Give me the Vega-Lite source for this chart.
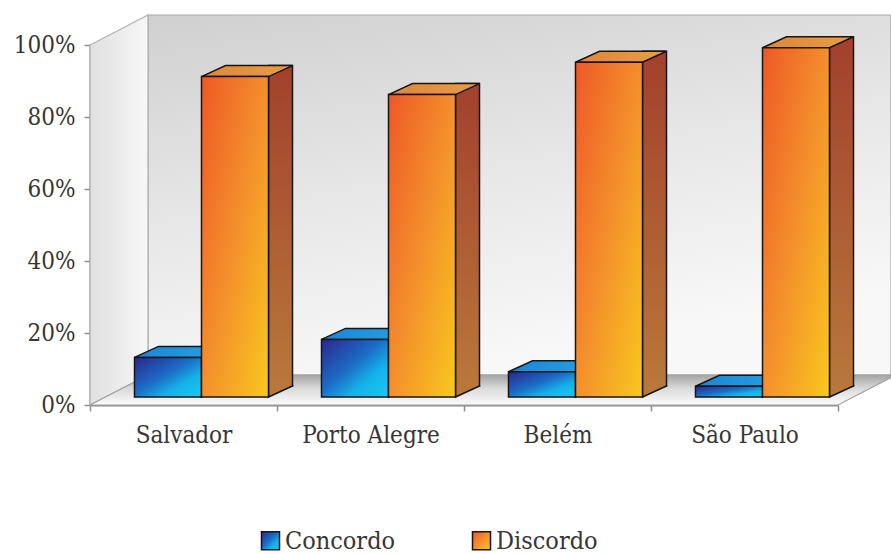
{
  "$schema": "https://vega.github.io/schema/vega-lite/v6.json",
  "width": 748,
  "height": 360,
  "autosize": {"type": "none"},
  "padding": {"left": 90, "top": 45, "right": 53, "bottom": 149},
  "background": "#ffffff",
  "config": {
    "view": {"stroke": null},
    "axis": {
      "zindex": 1,
      "grid": false,
      "domainColor": "#8c8c8c",
      "domainWidth": 2,
      "tickColor": "#8c8c8c",
      "tickWidth": 1.5,
      "tickSize": 6,
      "labelFont": "DejaVu Serif Condensed, DejaVu Serif",
      "labelFontSize": 24,
      "labelColor": "#363636",
      "title": null
    },
    "axisX": {"tickBand": "extent", "labelAngle": 0, "labelPadding": 12},
    "axisY": {"labelPadding": 9, "tickCount": 5, "format": ".0%"}
  },
  "datasets": {
    "survey": [
      {"city": "Salvador", "series": "Concordo", "value": 0.11},
      {"city": "Salvador", "series": "Discordo", "value": 0.89},
      {"city": "Porto Alegre", "series": "Concordo", "value": 0.16},
      {"city": "Porto Alegre", "series": "Discordo", "value": 0.84},
      {"city": "Belém", "series": "Concordo", "value": 0.07},
      {"city": "Belém", "series": "Discordo", "value": 0.93},
      {"city": "São Paulo", "series": "Concordo", "value": 0.03},
      {"city": "São Paulo", "series": "Discordo", "value": 0.97}
    ]
  },
  "resolve": {"scale": {"xOffset": "independent"}},
  "layer": [
    {
      "description": "back wall",
      "data": {"values": [{}]},
      "mark": {"type": "rect", "xOffset": 58, "x2Offset": 53, "yOffset": -30, "y2Offset": -30,
        "stroke": "#a9a9a9", "strokeWidth": 1.2,
        "fill": {"gradient": "linear", "x1": 0, "y1": 0, "x2": 0.35, "y2": 1,
          "stops": [{"offset": 0, "color": "#d0d0d0"}, {"offset": 0.55, "color": "#e8e8e8"}, {"offset": 1, "color": "#f8f8f8"}]}},
      "encoding": {
        "x": {"value": 0},
        "x2": {"value": "width"},
        "y": {"datum": 1, "type": "quantitative", "scale": {"domain": [0, 1]}},
        "y2": {"datum": 0}
      }
    },
    {
      "description": "left side wall",
      "data": {"values": [{}]},
      "mark": {"type": "point", "shape": "M0,0L58,-30L58,-390L0,-360Z", "size": 4, "filled": true, "opacity": 1,
        "stroke": "#b0b0b0", "strokeWidth": 1.2,
        "fill": {"gradient": "linear", "x1": 0, "y1": 0, "x2": 1, "y2": 0,
          "stops": [{"offset": 0, "color": "#e0e0e0"}, {"offset": 1, "color": "#f7f7f7"}]}},
      "encoding": {
        "x": {"value": 0},
        "y": {"datum": 0, "type": "quantitative"}
      }
    },
    {
      "description": "floor",
      "data": {"values": [{}]},
      "mark": {"type": "point", "shape": "M0,0L748,0L801,-27.4L801,-30L58,-30Z", "size": 4, "filled": true, "opacity": 1,
        "stroke": "#a0a0a0", "strokeWidth": 1.2,
        "fill": {"gradient": "linear", "x1": 0, "y1": 0, "x2": 0, "y2": 1,
          "stops": [{"offset": 0, "color": "#a4a4a4"}, {"offset": 0.45, "color": "#dadada"}, {"offset": 1, "color": "#fcfcfc"}]}},
      "encoding": {
        "x": {"value": 0},
        "y": {"datum": 0, "type": "quantitative"}
      }
    },
    {
      "description": "bar side faces",
      "data": {"name": "survey"},
      "mark": {"type": "bar", "yOffset": -19, "y2Offset": -19, "stroke": "#161616", "strokeWidth": 1.5},
      "encoding": {
        "x": {"field": "city", "type": "nominal", "sort": null, "scale": {"type": "band", "paddingInner": 0, "paddingOuter": 0}},
        "xOffset": {"field": "series", "type": "nominal", "sort": null,
          "scale": {"type": "band", "domain": ["Concordo", "Discordo"], "range": [111.5, 202.5], "paddingInner": 0.6418, "paddingOuter": 0}},
        "y": {"field": "value", "type": "quantitative", "scale": {"domain": [0, 1]}},
        "y2": {"datum": 0},
        "fill": {
          "condition": {"test": "datum.series === 'Concordo'",
            "value": {"gradient": "linear", "x1": 0, "y1": 0, "x2": 0, "y2": 1,
              "stops": [{"offset": 0, "color": "#24318c"}, {"offset": 1, "color": "#1a5fb0"}]}},
          "value": {"gradient": "linear", "x1": 0, "y1": 0, "x2": 0, "y2": 1,
            "stops": [{"offset": 0, "color": "#a3402d"}, {"offset": 1, "color": "#b9773a"}]}
        }
      }
    },
    {
      "description": "lower corner of the side faces",
      "data": {"name": "survey"},
      "mark": {"type": "point", "shape": "M33.5,-12L33.5,0L57.5,-11L57.5,-12", "size": 4, "filled": true, "opacity": 1,
        "yOffset": -8, "stroke": "#161616", "strokeWidth": 1.5},
      "encoding": {
        "x": {"field": "city", "type": "nominal", "sort": null, "scale": {"type": "band", "paddingInner": 0, "paddingOuter": 0}},
        "xOffset": {"field": "series", "type": "nominal", "sort": null,
          "scale": {"type": "band", "domain": ["Concordo", "Discordo"], "range": [44.5, 178.5], "paddingInner": 0, "paddingOuter": 0}},
        "y": {"datum": 0, "type": "quantitative"},
        "fill": {"condition": {"test": "datum.series === 'Concordo'", "value": "#1a5fb0"}, "value": "#b9773a"}
      }
    },
    {
      "description": "bar top faces",
      "data": {"name": "survey"},
      "mark": {"type": "point", "shape": "M-33.5,0L33.5,0L57.5,-11L-9.5,-11Z", "size": 4, "filled": true, "opacity": 1,
        "yOffset": -8, "stroke": "#161616", "strokeWidth": 1.5},
      "encoding": {
        "x": {"field": "city", "type": "nominal", "sort": null, "scale": {"type": "band", "paddingInner": 0, "paddingOuter": 0}},
        "xOffset": {"field": "series", "type": "nominal", "sort": null,
          "scale": {"type": "band", "domain": ["Concordo", "Discordo"], "range": [44.5, 178.5], "paddingInner": 0, "paddingOuter": 0}},
        "y": {"field": "value", "type": "quantitative"},
        "fill": {
          "condition": {"test": "datum.series === 'Concordo'",
            "value": {"gradient": "linear", "x1": 0, "y1": 0, "x2": 1, "y2": 0,
              "stops": [{"offset": 0, "color": "#1c86d4"}, {"offset": 1, "color": "#26a2e4"}]}},
          "value": {"gradient": "linear", "x1": 0, "y1": 0, "x2": 1, "y2": 0,
            "stops": [{"offset": 0, "color": "#dc8838"}, {"offset": 1, "color": "#eb9c46"}]}
        }
      }
    },
    {
      "description": "bar front faces",
      "data": {"name": "survey"},
      "mark": {"type": "bar", "yOffset": -8, "y2Offset": -8, "stroke": "#161616", "strokeWidth": 1.5},
      "encoding": {
        "x": {"field": "city", "type": "nominal", "sort": null, "scale": {"type": "band", "paddingInner": 0, "paddingOuter": 0}},
        "xOffset": {"field": "series", "type": "nominal", "sort": null,
          "scale": {"type": "band", "domain": ["Concordo", "Discordo"], "range": [44.5, 178.5], "paddingInner": 0, "paddingOuter": 0}},
        "y": {"field": "value", "type": "quantitative"},
        "y2": {"datum": 0},
        "color": {
          "field": "series", "type": "nominal",
          "scale": {
            "domain": ["Concordo", "Discordo"],
            "range": [
              {"expr": "{gradient: 'linear', x1: 0, y1: 0, x2: 1, y2: 1, stops: [{offset: 0, color: '#2b278c'}, {offset: 0.45, color: '#1b6cc6'}, {offset: 0.7, color: '#14b2ea'}, {offset: 1, color: '#1ac8f4'}]}"},
              {"expr": "{gradient: 'linear', x1: 0, y1: 0, x2: 1, y2: 1, stops: [{offset: 0, color: '#ee5826'}, {offset: 0.5, color: '#f48f2c'}, {offset: 1, color: '#f9c81e'}]}"}
            ]
          },
          "legend": {
            "orient": "none", "legendX": 168, "legendY": 483, "direction": "horizontal", "title": null,
            "padding": 0, "symbolType": "square", "symbolSize": 324, "symbolStrokeColor": "#161616",
            "symbolStrokeWidth": 1.5, "symbolOpacity": 1, "labelFont": "DejaVu Serif Condensed, DejaVu Serif", "labelFontSize": 25,
            "labelColor": "#363636", "labelOffset": 2, "columnPadding": 73, "labelLimit": 300
          }
        }
      }
    }
  ]
}
